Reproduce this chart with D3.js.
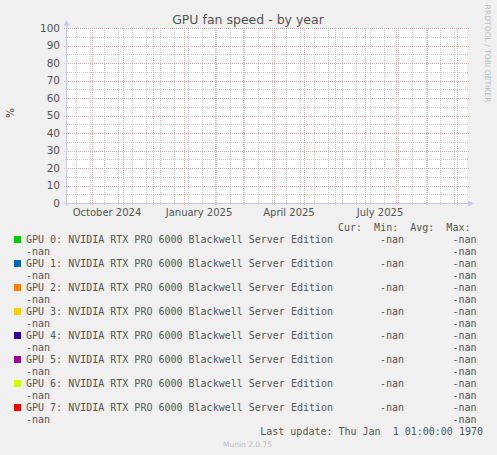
<!DOCTYPE html>
<html>
<head>
<meta charset="utf-8">
<script src="https://cdn.jsdelivr.net/npm/d3@7"></script>
<style>
  html, body { margin: 0; padding: 0; background: #f0f0f0; }
  text { white-space: pre; }
</style>
</head>
<body>
<div id="chart"></div>
<script>
// GPU fan speed - by year (munin / rrdtool look)

// data
const gpuNames = [
    "GPU 0: NVIDIA RTX PRO 6000 Blackwell Server Edition",
    "GPU 1: NVIDIA RTX PRO 6000 Blackwell Server Edition",
    "GPU 2: NVIDIA RTX PRO 6000 Blackwell Server Edition",
    "GPU 3: NVIDIA RTX PRO 6000 Blackwell Server Edition",
    "GPU 4: NVIDIA RTX PRO 6000 Blackwell Server Edition",
    "GPU 5: NVIDIA RTX PRO 6000 Blackwell Server Edition",
    "GPU 6: NVIDIA RTX PRO 6000 Blackwell Server Edition",
    "GPU 7: NVIDIA RTX PRO 6000 Blackwell Server Edition"
];
const gpuColors = ["#00cc00", "#0066b3", "#ff8000", "#ffcc00", "#330099", "#990099", "#ccff00", "#ff0000"];
// no samples in the whole year, every value is -nan
const curValues = ["-nan", "-nan", "-nan", "-nan", "-nan", "-nan", "-nan", "-nan"];
const minValues = ["-nan", "-nan", "-nan", "-nan", "-nan", "-nan", "-nan", "-nan"];
const avgValues = ["-nan", "-nan", "-nan", "-nan", "-nan", "-nan", "-nan", "-nan"];
const maxValues = ["-nan", "-nan", "-nan", "-nan", "-nan", "-nan", "-nan", "-nan"];
const yDomain = [0, 100];
const timeStart = new Date(2024, 8, 6);   // 400 days shown
const timeEnd = new Date(2025, 9, 11);
const minorGridStart = new Date(2024, 8, 15); // every 2nd sunday
const lastUpdate = "Last update: Thu Jan  1 01:00:00 1970";

const W = 497, H = 455;
const plot = { left: 67, right: 467, top: 28, bottom: 203 };

const svg = d3.select("#chart").append("svg")
    .attr("width", W)
    .attr("height", H)
    .style("display", "block");

svg.append("rect").attr("width", W).attr("height", H).attr("fill", "#f0f0f0");

const x = d3.scaleTime().domain([timeStart, timeEnd]).range([plot.left, plot.right]);
const y = d3.scaleLinear().domain(yDomain).range([plot.bottom, plot.top]);

svg.append("rect")
    .attr("x", plot.left).attr("y", plot.top)
    .attr("width", plot.right - plot.left).attr("height", plot.bottom - plot.top)
    .attr("fill", "#ffffff");

const grid = svg.append("g").attr("shape-rendering", "crispEdges");
const minorColor = "#cccccc";
const majorColor = "#efb0b0";

// horizontal grid, minor every 5, major every 10
grid.selectAll("line.hmin")
    .data(d3.range(yDomain[0], yDomain[1] + 1, 5).filter(function(v){ return v % 10 !== 0; }))
    .join("line")
    .attr("x1", plot.left - 2).attr("x2", plot.right + 2)
    .attr("y1", function(d){ return Math.round(y(d)) + 0.5; })
    .attr("y2", function(d){ return Math.round(y(d)) + 0.5; })
    .attr("stroke", minorColor).attr("stroke-dasharray", "1,1");

// vertical minor grid (two weeks)
grid.selectAll("line.vmin")
    .data(d3.timeDay.range(minorGridStart, timeEnd, 14))
    .join("line")
    .attr("x1", function(d){ return Math.round(x(d)) + 0.5; })
    .attr("x2", function(d){ return Math.round(x(d)) + 0.5; })
    .attr("y1", plot.top).attr("y2", plot.bottom + 2)
    .attr("stroke", minorColor).attr("stroke-dasharray", "1,1");

// vertical major grid (month)
grid.selectAll("line.vmaj")
    .data(d3.timeMonth.range(timeStart, timeEnd))
    .join("line")
    .attr("x1", function(d){ return Math.round(x(d)) + 0.5; })
    .attr("x2", function(d){ return Math.round(x(d)) + 0.5; })
    .attr("y1", plot.top).attr("y2", plot.bottom + 3)
    .attr("stroke", majorColor).attr("stroke-dasharray", "1,1");

grid.selectAll("line.hmaj")
    .data(y.ticks(10))
    .join("line")
    .attr("x1", plot.left - 3).attr("x2", plot.right + 2)
    .attr("y1", function(d){ return Math.round(y(d)) + 0.5; })
    .attr("y2", function(d){ return Math.round(y(d)) + 0.5; })
    .attr("stroke", majorColor).attr("stroke-dasharray", "1,1");

// axes with arrows
const axisColor = "#c8c8f0";
svg.append("line")
    .attr("x1", plot.left - 0.5).attr("x2", plot.left - 0.5)
    .attr("y1", plot.bottom + 3).attr("y2", plot.top - 4)
    .attr("stroke", axisColor);
svg.append("line")
    .attr("x1", plot.left - 3).attr("x2", plot.right + 3)
    .attr("y1", plot.bottom + 0.5).attr("y2", plot.bottom + 0.5)
    .attr("stroke", axisColor);
svg.append("path")
    .attr("d", "M" + (plot.left - 3.5) + "," + (plot.top - 2.5) + "L" + (plot.left + 2.5) + "," + (plot.top - 2.5) + "L" + (plot.left - 0.5) + "," + (plot.top - 8) + "Z")
    .attr("fill", axisColor);
svg.append("path")
    .attr("d", "M" + (plot.right + 1) + "," + (plot.bottom - 2.5) + "L" + (plot.right + 1) + "," + (plot.bottom + 3.5) + "L" + (plot.right + 6.5) + "," + (plot.bottom + 0.5) + "Z")
    .attr("fill", axisColor);

const textColor = "#555555";
const sans = "'DejaVu Sans', sans-serif";
const mono = "'DejaVu Sans Mono', monospace";

// y tick labels
svg.append("g").selectAll("text")
    .data(y.ticks(10))
    .join("text")
    .attr("x", 60)
    .attr("y", function(d){ return y(d) + 3.7; })
    .attr("text-anchor", "end")
    .attr("font-family", sans).attr("font-size", "10.5px")
    .attr("fill", textColor)
    .text(function(d){ return d; });

// x labels: every 3 months, centred half a month after the month start
const fmt = d3.timeFormat("%B %Y");
svg.append("g").selectAll("text")
    .data(d3.timeMonth.every(3).range(timeStart, timeEnd).filter(function(d){ return x(d3.timeDay.offset(d, 15)) < plot.right - 20; }))
    .join("text")
    .attr("x", function(d){ return x(d3.timeDay.offset(d, 15)); })
    .attr("y", 216)
    .attr("text-anchor", "middle")
    .attr("font-family", sans).attr("font-size", "10px")
    .attr("fill", textColor)
    .text(function(d){ return fmt(d); });

// title
svg.append("text")
    .attr("x", 248).attr("y", 23.5)
    .attr("text-anchor", "middle")
    .attr("font-family", sans).attr("font-size", "12.5px")
    .attr("fill", textColor)
    .text("GPU fan speed - by year");

// unit
svg.append("text")
    .attr("transform", "translate(14,113) rotate(-90)")
    .attr("text-anchor", "middle")
    .attr("font-family", sans).attr("font-size", "10.5px")
    .attr("fill", textColor)
    .text("%");

// rrdtool watermark
svg.append("text")
    .attr("transform", "translate(485,53.5) rotate(90)")
    .attr("text-anchor", "middle")
    .attr("font-family", sans).attr("font-size", "7.6px")
    .attr("fill", "#bcbcbc")
    .text("RRDTOOL / TOBI OETIKER");

// legend
svg.append("text")
    .attr("x", 338).attr("y", 231)
    .attr("font-family", mono).attr("font-size", "10px")
    .attr("fill", textColor)
    .text("Cur:  Min:  Avg:  Max:");

const legend = svg.append("g").selectAll("g")
    .data(gpuNames)
    .join("g")
    .attr("transform", function(d, i){ return "translate(0," + (243 + i * 24) + ")"; });

legend.append("rect")
    .attr("x", 14).attr("y", -7)
    .attr("width", 7).attr("height", 7)
    .attr("fill", function(d, i){ return gpuColors[i]; });

legend.append("text")
    .attr("x", 26).attr("y", 0)
    .attr("font-family", mono).attr("font-size", "10px")
    .attr("fill", textColor)
    .text(function(d){ return d; });

legend.append("text")
    .attr("x", 380).attr("y", 0)
    .attr("font-family", mono).attr("font-size", "10px")
    .attr("fill", textColor)
    .text(function(d, i){ return curValues[i]; });

legend.append("text")
    .attr("x", 452.5).attr("y", 0)
    .attr("font-family", mono).attr("font-size", "10px")
    .attr("fill", textColor)
    .text(function(d, i){ return minValues[i]; });

legend.append("text")
    .attr("x", 26).attr("y", 12)
    .attr("font-family", mono).attr("font-size", "10px")
    .attr("fill", textColor)
    .text(function(d, i){ return avgValues[i]; });

legend.append("text")
    .attr("x", 452.5).attr("y", 12)
    .attr("font-family", mono).attr("font-size", "10px")
    .attr("fill", textColor)
    .text(function(d, i){ return maxValues[i]; });

svg.append("text")
    .attr("x", 483).attr("y", 435)
    .attr("text-anchor", "end")
    .attr("font-family", mono).attr("font-size", "10px")
    .attr("fill", textColor)
    .text(lastUpdate);

svg.append("text")
    .attr("x", 223).attr("y", 447)
    .attr("font-family", sans).attr("font-size", "7.5px")
    .attr("fill", "#c0c0c0")
    .text("Munin 2.0.75");
</script>
</body>
</html>
